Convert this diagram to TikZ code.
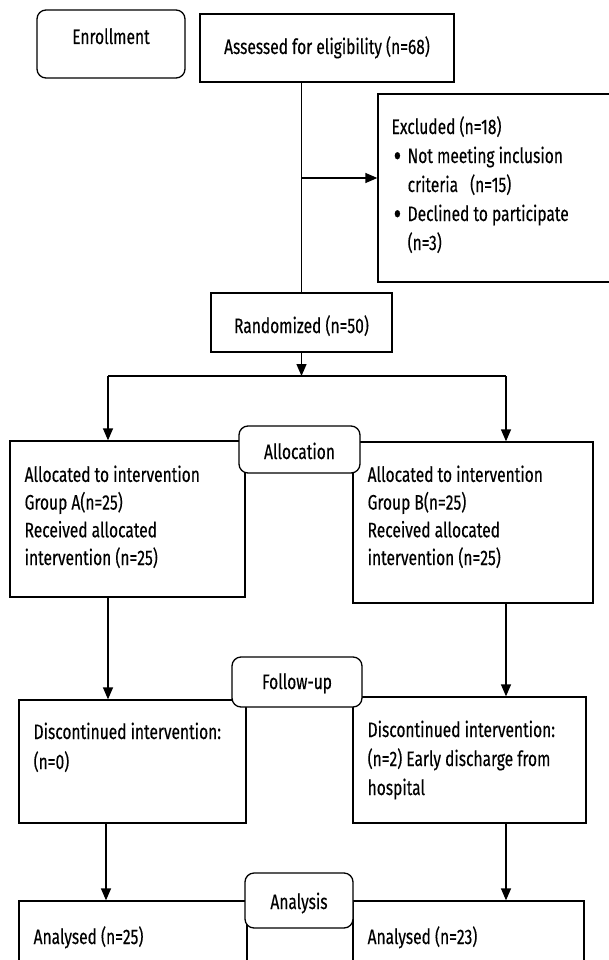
\documentclass[tikz,border=0pt]{standalone}
\usepackage{fontspec}
\setmainfont{Fira Sans}[FakeStretch=0.74,FakeBold=0.3]
\usetikzlibrary{arrows.meta}

\begin{document}
\begin{tikzpicture}[x=1pt,y=-1pt,line width=1.3pt,
  box/.style={draw,rectangle,inner sep=0pt},
  rbox/.style={draw,rectangle,rounded corners=9pt,fill=white,inner sep=0pt},
  txt/.style={inner sep=0pt,align=left,anchor=base west,font=\fontsize{21}{27.7}\selectfont},
  ctxt/.style={inner sep=0pt,anchor=base,font=\fontsize{21}{27.7}\selectfont},
  arr/.style={-{Triangle[length=12pt,width=10pt]}}]
\useasboundingbox (0,0) rectangle (608,960);
% enrollment (multi-line texts sit on the baseline of their last line)
\node[rbox,minimum width=148pt,minimum height=68pt] (enroll) at (111,44) {};
\node[ctxt] (enrolltxt) at (111,44) {Enrollment};
\node[box,minimum width=254pt,minimum height=68pt] (assess) at (327,48) {};
\node[ctxt] (assesstxt) at (327,54) {Assessed for eligibility (n=68)};
\node[box,minimum width=242pt,minimum height=188pt] (excl) at (499,188) {};
\node[txt,font=\fontsize{21}{29}\selectfont] (excltxt) at (391,250) {Excluded (n=18)\\
\hspace*{2pt}\makebox[14pt][l]{\raisebox{-3.5pt}{\scalebox{1.5}{\textbullet}}}Not meeting inclusion\\
\hspace*{16pt}criteria\hspace{12pt}(n=15)\\
\hspace*{2pt}\makebox[14pt][l]{\raisebox{-3.5pt}{\scalebox{1.5}{\textbullet}}}Declined to participate\\
\hspace*{16pt}(n=3)};
\node[box,minimum width=181pt,minimum height=59pt] (rand) at (301.5,322.5) {};
\node[ctxt] (randtxt) at (301.5,333) {Randomized (n=50)};
\coordinate (split) at (301,178);
\draw (rand.north |- assess.south) -- (rand.north);
\draw[arr] (split) -- (split -| excl.west);
% allocation
\coordinate (forkL) at (108,376);
\coordinate (forkR) at (506,376);
\draw[arr] (rand.south) -- (rand.south |- forkL);
\draw (forkL) -- (forkR);
\node[box,minimum width=235pt,minimum height=156pt] (grpA) at (127.5,519) {};
\node[box,minimum width=240pt,minimum height=161pt] (grpB) at (473,522.5) {};
\draw[arr] (forkL) -- (forkL |- grpA.north);
\draw[arr] (forkR) -- (forkR |- grpB.north);
\node[rbox,minimum width=121pt,minimum height=47pt] (alloc) at (299.5,449.5) {};
\node[ctxt] (alloctxt) at (299.5,459) {Allocation};
\node[txt] (grpAtxt) at (24,565) {Allocated to intervention\\Group A(n=25)\\Received allocated\\intervention (n=25)};
\node[txt] (grpBtxt) at (367,565) {Allocated to intervention\\Group B(n=25)\\Received allocated\\intervention (n=25)};
% follow-up
\node[box,minimum width=227pt,minimum height=123pt] (discA) at (132.5,761.5) {};
\node[box,minimum width=233pt,minimum height=126pt] (discB) at (469.5,760) {};
\draw[arr] (forkL |- grpA.south) -- (forkL |- discA.north);
\draw[arr] (forkR |- grpB.south) -- (forkR |- discB.north);
\node[rbox,minimum width=130pt,minimum height=50pt] (follow) at (297,682) {};
\node[ctxt] (followtxt) at (297,689) {Follow-up};
\node[txt,font=\fontsize{21}{30}\selectfont] (discAtxt) at (33,769) {Discontinued intervention:\\(n=0)};
\node[txt,font=\fontsize{21}{29}\selectfont] (discBtxt) at (367,795) {Discontinued intervention:\\(n=2) Early discharge from\\hospital};
% analysis
\coordinate (colL) at (106,0);
\node[box,minimum width=228pt,minimum height=79pt] (anaA) at (133,940.5) {};
\node[box,minimum width=231pt,minimum height=79pt] (anaB) at (468.5,940.5) {};
\draw[arr] (colL |- discA.south) -- (colL |- anaA.north);
\draw[arr] (forkR |- discB.south) -- (forkR |- anaB.north);
\node[rbox,minimum width=108pt,minimum height=55pt] (analysis) at (299,900.5) {};
\node[ctxt] (analysistxt) at (299,909) {Analysis};
\node[txt] (anaAtxt) at (33,944) {Analysed (n=25)};
\node[txt] (anaBtxt) at (367,944) {Analysed (n=23)};
\end{tikzpicture}
\end{document}
